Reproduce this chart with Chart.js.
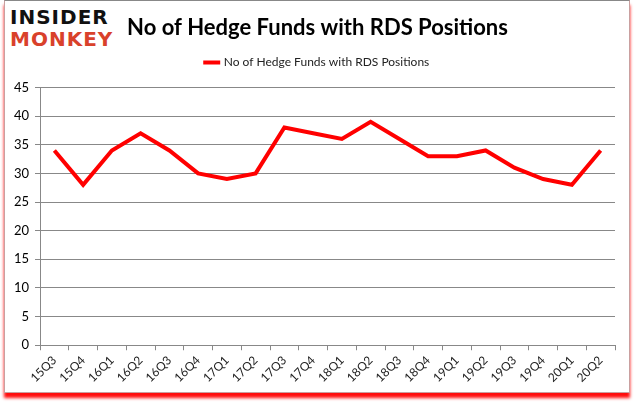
<!DOCTYPE html>
<html>
<head>
<meta charset="utf-8">
<script src="https://cdn.jsdelivr.net/npm/chart.js@4.4.0/dist/chart.umd.min.js"></script>
<style>
  html, body { margin: 0; padding: 0; background: #fff; }
  #frame { position: absolute; left: 4px; top: 0px; width: 624px; height: 391px;
    border: 1px solid #c9a0a0; border-top-color: #888; box-shadow: 0 5px 3px rgba(255,0,0,.95); background: #fff; }
  #wrap { position: absolute; left: 0; top: 0; width: 635px; height: 405px; }
  .logo { position: absolute; left: 10px; font-family: "DejaVu Sans", sans-serif; font-weight: bold;
    font-size: 20px; letter-spacing: 1px; line-height: 20px; }
</style>
</head>
<body>
<div id="frame"></div>
<div class="logo" style="top:7px;color:#111">INSIDER</div>
<div class="logo" style="top:29px;color:#d9412b">MONKEY</div>
<div id="wrap"><canvas id="chart" width="635" height="405"></canvas></div>
<script>
var quarters = ['15Q3', '15Q4', '16Q1', '16Q2', '16Q3', '16Q4', '17Q1', '17Q2', '17Q3', '17Q4',
  '18Q1', '18Q2', '18Q3', '18Q4', '19Q1', '19Q2', '19Q3', '19Q4', '20Q1', '20Q2'];
var hedgeFunds = [34, 28, 34, 37, 34, 30, 29, 30, 38, 37, 36, 39, 36, 33, 33, 34, 31, 29, 28, 34];
var seriesName = 'No of Hedge Funds with RDS Positions';
var yMax = 45, yStep = 5;

// move title + legend so they sit where the original has them
var shiftHeader = {
  id: 'shiftHeader',
  afterLayout: function (chart) {
    var t = chart.titleBlock, l = chart.legend;
    if (t) { t.left += 5; t.right += 5; t.top += 4; t.bottom += 4; }
    if (l) { l.left += 5; l.right += 5; l.top -= 9; l.bottom -= 9; }
  }
};

new Chart(document.getElementById('chart'), {
  type: 'line',
  data: {
    labels: quarters,
    datasets: [{ label: seriesName, data: hedgeFunds, borderColor: '#ff0000', backgroundColor: '#ff0000',
      borderWidth: 4, pointRadius: 0, tension: 0, fill: false }]
  },
  options: {
    responsive: false, animation: false,
    layout: { padding: { left: 10, right: 20, top: 11, bottom: 17 } },
    plugins: {
      title: { display: true, text: seriesName, color: '#000', padding: { top: 0, bottom: 12 },
        font: { family: 'Lato', size: 22, weight: 'bold' } },
      legend: { labels: { usePointStyle: true, pointStyle: 'line', boxWidth: 30, color: '#222', padding: 16,
        font: { family: 'Lato', size: 12 } } },
      tooltip: { enabled: false }
    },
    scales: {
      x: { offset: true,
        grid: { offset: true, drawOnChartArea: false, tickLength: 5, color: '#888' },
        border: { color: '#888' },
        ticks: { maxRotation: 45, minRotation: 45, color: '#222', font: { family: 'Lato', size: 12 } } },
      y: { min: 0, max: yMax,
        afterFit: function (scale) { scale.width = 30; },
        grid: { color: '#888', tickLength: 5 },
        border: { color: '#888' },
        ticks: { stepSize: yStep, color: '#000', padding: 6, font: { family: 'Lato', size: 13 } } }
    }
  },
  plugins: [shiftHeader]
});
</script>
</body>
</html>
